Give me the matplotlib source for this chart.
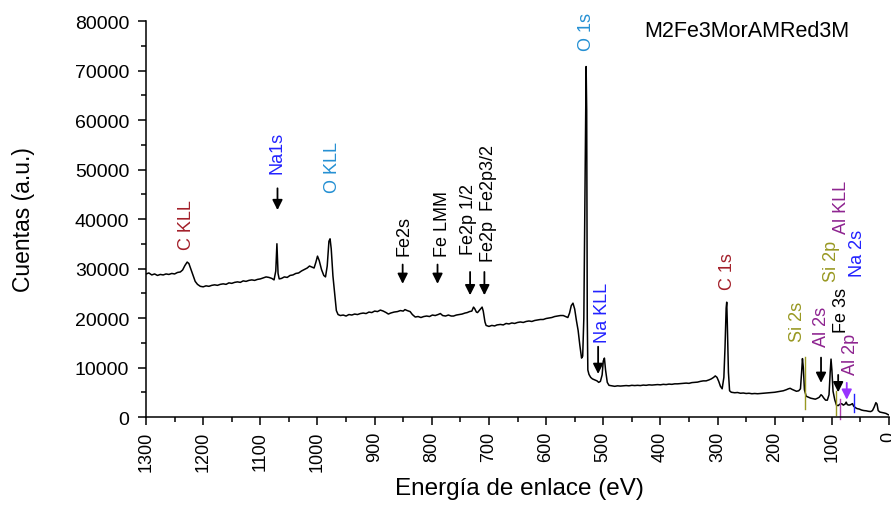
import matplotlib
matplotlib.use("Agg")
import matplotlib.pyplot as plt
from matplotlib.ticker import MultipleLocator

plt.rcParams["font.family"] = ["Liberation Sans", "DejaVu Sans"]

# survey spectrum: binding energy (eV) and counts
energy = [1300, 1295, 1290, 1285, 1280, 1275, 1270, 1265, 1260, 1255, 1250, 1245, 1240,
          1236, 1232, 1228, 1225, 1222, 1218, 1214, 1210, 1205, 1200, 1195, 1190, 1185,
          1180, 1175, 1170, 1165, 1160, 1155, 1150, 1145, 1140, 1135, 1130, 1125, 1120,
          1115, 1110, 1105, 1100, 1095, 1090, 1085, 1080, 1076, 1073, 1071, 1069, 1067,
          1063, 1058, 1053, 1048, 1043, 1038, 1033, 1028, 1023, 1018, 1014, 1010, 1006,
          1003, 1000, 997, 993, 989, 986, 983, 980, 978, 976, 973, 970, 967, 964, 960,
          955, 950, 945, 940, 935, 930, 925, 920, 915, 910, 905, 900, 895, 890, 885, 880,
          876, 872, 866, 860, 855, 850, 847, 843, 838, 834, 829, 824, 819, 814, 809, 804,
          799, 794, 789, 785, 781, 776, 771, 766, 762, 757, 752, 747, 742, 738, 734, 730,
          727, 725, 722, 720, 717, 714, 712, 710, 707, 705, 700, 695, 690, 686, 680, 675,
          670, 665, 660, 655, 650, 645, 640, 635, 630, 625, 620, 615, 610, 605, 600, 595,
          590, 585, 580, 575, 570, 566, 562, 559, 556, 553, 550, 547, 544, 541, 538, 536,
          534, 532, 530, 529, 528, 527, 525, 522, 519, 515, 511, 508, 505, 502, 500, 498,
          496, 493, 490, 485, 480, 475, 470, 465, 460, 455, 450, 445, 440, 435, 430, 425,
          420, 415, 410, 405, 400, 395, 390, 385, 380, 375, 370, 365, 360, 355, 350, 345,
          340, 335, 330, 325, 320, 315, 311, 307, 304, 301, 298, 295, 292, 289, 287, 285,
          284, 283, 281, 279, 276, 270, 265, 260, 255, 250, 245, 240, 235, 230, 225, 220,
          215, 210, 205, 200, 195, 190, 185, 180, 176, 173, 170, 166, 162, 158, 155, 153,
          151.5, 150, 148, 145, 141, 137, 133, 129, 125, 122, 119, 117, 114, 111, 108, 105,
          103, 101.5, 100, 98, 95, 92, 89, 86, 83, 80, 77, 75, 73, 70, 67, 64, 62, 59, 56,
          52, 48, 44, 40, 36, 32, 29, 26, 23, 21, 19, 16, 12, 8, 5, 2, 0]
counts = [28900, 29100, 28700, 28900, 28600, 28800, 28700, 28900, 28800, 29000, 28900, 29200, 29300,
          29700, 30600, 31300, 31000, 30000, 28600, 27400, 26800, 26400, 26300, 26500, 26400, 26600,
          26700, 26600, 26800, 26900, 26800, 27100, 27000, 27200, 27300, 27200, 27500, 27400, 27600,
          27700, 27600, 27800, 27900, 28100, 28300, 28200, 28000, 27700, 29500, 35000, 29000, 27900,
          28000, 28300, 28200, 28600, 28700, 29000, 29100, 29500, 29800, 30100, 30500, 30300, 30100,
          31200, 32500, 31600, 29800, 28600, 28300, 30500, 35500, 36000, 34000, 28500, 25000, 21500, 20700, 20500,
          20600, 20400, 20700, 20600, 20800, 20700, 20900, 21000, 20900, 21200, 21100, 21400, 21300, 21600, 21400, 21100,
          20800, 21000, 21200, 21300, 21500, 21400, 21700, 21500, 21300, 20700, 20200, 20300, 20100, 20300, 20400, 20300,
          20600, 20500, 20700, 20900, 20500, 20400, 20600, 20400, 20400, 20600, 20700, 20800, 21000, 21100, 21300, 21400,
          22200, 21900, 21200, 21100, 21500, 21900, 22200, 21400, 19200, 18500, 18300, 18500, 18400, 18600, 18700, 18600,
          18900, 18800, 19000, 18900, 19100, 19200, 19100, 19300, 19400, 19300, 19500, 19600, 19700, 19700, 19900, 20000,
          20100, 20300, 20400, 20500, 20500, 20300, 20100, 21000, 22500, 23000, 21800, 19500, 17500, 14500, 11900, 12300,
          20000, 45000, 70800, 62000, 20000, 9500, 8600, 8000, 7700, 7500, 7300, 7000, 7200, 8500, 11300, 11900,
          9500, 7000, 6400, 6300, 6200, 6300, 6250, 6300, 6350, 6300, 6400, 6350, 6400, 6350, 6450, 6400,
          6500, 6450, 6500, 6550, 6500, 6600, 6550, 6650, 6600, 6700, 6700, 6750, 6800, 6850, 6800, 6950,
          7000, 7050, 7200, 7300, 7300, 7500, 7700, 8000, 8300, 8000, 7200, 6200, 5700, 8000, 14000, 22000,
          23200, 19000, 9000, 5300, 5000, 4900, 4950, 4800, 4850, 4750, 4800, 4700, 4750, 4700, 4750, 4800,
          4850, 4900, 4950, 5000, 5100, 5200, 5300, 5500, 5700, 5800, 5600, 5400, 5200, 5300, 5700, 9000,
          11800, 10000, 5500, 4200, 4000, 3800, 3700, 3600, 3800, 4000, 4500, 4300, 3800, 3400, 3400, 4500,
          9000, 11700, 9500, 5200, 3500, 2400, 2300, 2600, 2700, 2400, 2600, 3000, 2500, 2400, 2500, 2700, 2200, 1900, 1700,
          1600, 1400, 1300, 1250, 1150, 1100, 1300, 2000, 2900, 2600, 1300, 1000, 900, 800, 700, 500, 400]

# peak labels: text, energy, counts at text bottom, colour
label_text = ["C KLL", "Na1s", "O KLL", "Fe2s", "Fe LMM", "Fe2p 1/2", "Fe2p  Fe2p3/2",
              "O 1s", "Na KLL", "C 1s", "Si 2s", "Al 2s", "Fe 3s", "Al 2p", "Si 2p",
              "Na 2s", "Al KLL"]
label_x = [1229, 1071, 973, 849, 782, 736, 700, 529, 501, 282, 161, 119, 84, 68, 100, 55, 83]
label_y = [34000, 49200, 45400, 32800, 32600, 33000, 31600, 74100, 15200, 25900, 15400,
           14400, 17200, 8700, 27500, 28400, 37100]
label_color = ["#a3202a", "#2222ff", "#2590d3", "black", "black", "black", "black",
               "#2590d3", "#2222ff", "#a3202a", "#989822", "#8e2490", "black", "#8e2490",
               "#989822", "#2222ff", "#8e2490"]

# arrows: energy, tail counts, tip counts, colour
arrow_x = [1070, 851, 790, 733, 708, 509, 119, 89, 74]
arrow_top = [46200, 30800, 30800, 29300, 29300, 14200, 12000, 8500, 6900]
arrow_tip = [41800, 26900, 26900, 24600, 24600, 8700, 6900, 5000, 3500]
arrow_color = ["black"] * 8 + ["#9933ff"]

# reference marker lines: energy, top counts, bottom counts, colour
mark_x = [146.5, 92.7, 85.2, 61.8]
mark_top = [12100, 5300, 3700, 4700]
mark_bot = [1600, 400, -400, 1000]
mark_color = ["#989822", "#989822", "#b040b0", "#2222ff"]

fig = plt.figure(figsize=(8.91, 5.06), dpi=100)
ax = fig.add_axes([0.1639, 0.1739, 0.8339, 0.7826])

ax.plot(energy, counts, color="black", lw=1.1)

for x, t, b, c in zip(mark_x, mark_top, mark_bot, mark_color):
    ax.plot([x, x], [b, t], color=c, lw=1.0, clip_on=False)

for x, t, b, c in zip(arrow_x, arrow_top, arrow_tip, arrow_color):
    ax.annotate("", xy=(x, b), xytext=(x, t),
                arrowprops=dict(arrowstyle="-|>", color=c, lw=1.3,
                                mutation_scale=15, shrinkA=0, shrinkB=0))

for s, x, y, c in zip(label_text, label_x, label_y, label_color):
    ax.text(x, y, s, rotation=90, ha="center", va="bottom", color=c, fontsize=13)

ax.text(0.809, 0.977, "M2Fe3MorAMRed3M", transform=ax.transAxes, fontsize=15.5,
        ha="center", va="center")

ax.set_xlim(1300, 0)
ax.set_ylim(0, 80000)
ax.spines["top"].set_visible(False)
ax.spines["right"].set_visible(False)
ax.spines["left"].set_linewidth(1.1)
ax.spines["bottom"].set_linewidth(1.1)

ax.xaxis.set_major_locator(MultipleLocator(100))
ax.xaxis.set_minor_locator(MultipleLocator(50))
ax.yaxis.set_major_locator(MultipleLocator(10000))
ax.yaxis.set_minor_locator(MultipleLocator(5000))
ax.tick_params(which="major", length=6, width=1.1, direction="out")
ax.tick_params(which="minor", length=3.5, width=1.1, direction="out")
ax.tick_params(axis="y", labelsize=14, pad=6)
ax.tick_params(axis="x", labelsize=13, labelrotation=90, pad=4)

ax.set_xlabel("Energía de enlace (eV)", fontsize=17.5)
ax.set_ylabel("Cuentas (a.u.)", fontsize=16.5)
ax.xaxis.set_label_coords(0.503, -0.152)
ax.yaxis.set_label_coords(-0.149, 0.5)

fig.savefig("out.png", dpi=100)
